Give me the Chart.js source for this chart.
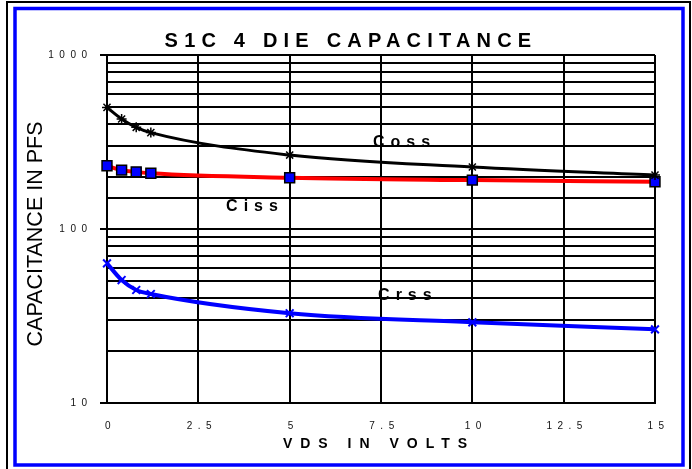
<!DOCTYPE html>
<html>
<head>
<meta charset="utf-8">
<script src="https://cdn.jsdelivr.net/npm/chart.js@4.4.0/dist/chart.umd.min.js"></script>
<style>
  html, body { margin: 0; padding: 0; background: #fff; }
  canvas { display: block; }
</style>
</head>
<body>
<canvas id="chartCap" width="692" height="469"></canvas>
<script>
// datos (VDS en volts, capacitancia en pF)
const vds  = [0, 0.4, 0.8, 1.2, 5, 10, 15];
const coss = [500, 429, 384, 358, 266, 227, 204];
const ciss = [231, 218, 213, 209, 197, 191, 187];
const crss = [63.5, 50.9, 44.6, 42.3, 32.8, 29.1, 26.5];

const yTickLabels = [10, 100, 1000];
const xTickLabels = ['0', '2.5', '5', '7.5', '10', '12.5', '15'];

// rotulos de las curvas, anclados en coordenadas de datos
const nombres = ['Coss', 'Ciss', 'Crss'];
const nombresX = [7.28, 3.26, 7.42];
const nombresY = [296, 127, 39.1];

const titulo = 'S1C 4 DIE CAPACITANCE';
const tituloX = 'VDS IN VOLTS';
const tituloY = 'CAPACITANCE IN PFS';

const FONT = 'Arial, "Liberation Sans", sans-serif';

function pares(xs, ys) {
    return xs.map((x, i) => ({ x: x, y: ys[i] }));
}

function texto(c, str, x, y, font, spacing, align) {
    c.save();
    c.font = font;
    c.letterSpacing = spacing + 'px';
    c.fillStyle = '#000';
    c.textAlign = align || 'left';
    c.textBaseline = 'alphabetic';
    c.fillText(str, x, y);
    c.restore();
}

const marco = {
    id: 'marco',
    beforeDraw(chart) {
        const c = chart.ctx;
        c.save();
        c.fillStyle = '#fff';
        c.fillRect(0, 0, chart.width, chart.height);
        c.strokeStyle = '#000';
        c.lineWidth = 2;
        c.strokeRect(7, 2, 683, 470);
        c.strokeStyle = '#0000ff';
        c.lineWidth = 3.5;
        c.strokeRect(15, 8.5, 668, 456.5);
        c.restore();
        // espaciado de las etiquetas de los ejes
        c.letterSpacing = '5.5px';
    },
    afterDraw(chart) {
        const c = chart.ctx;
        const sx = chart.scales.x, sy = chart.scales.y;
        nombres.forEach((n, i) => {
            texto(c, n, sx.getPixelForValue(nombresX[i]), sy.getPixelForValue(nombresY[i]),
                'bold 16px ' + FONT, 6, 'left');
        });
        texto(c, titulo, 351, 47, 'bold 20px ' + FONT, 6.2, 'center');
        texto(c, tituloX, 379, 448, 'bold 14px ' + FONT, 8, 'center');
        c.save();
        c.translate(42, 234);
        c.rotate(-Math.PI / 2);
        texto(c, tituloY, 0, 0, '21.5px ' + FONT, 0, 'center');
        c.restore();
        c.letterSpacing = '0px';
    }
};

new Chart(document.getElementById('chartCap'), {
    type: 'line',
    data: {
        datasets: [
            {
                label: 'Coss',
                data: pares(vds, coss),
                borderColor: '#000',
                borderWidth: 3,
                pointStyle: 'star',
                pointRadius: 5,
                pointBorderColor: '#000',
                pointBorderWidth: 1.5,
                cubicInterpolationMode: 'monotone',
                clip: false,
                order: 0
            },
            {
                label: 'Ciss',
                data: pares(vds, ciss),
                borderColor: '#ff0000',
                borderWidth: 4,
                pointStyle: 'rect',
                pointRadius: 7,
                pointBackgroundColor: '#0000ff',
                pointBorderColor: '#000',
                pointBorderWidth: 1.5,
                cubicInterpolationMode: 'monotone',
                clip: false,
                order: 1
            },
            {
                label: 'Crss',
                data: pares(vds, crss),
                borderColor: '#0000ff',
                borderWidth: 4,
                pointStyle: 'crossRot',
                pointRadius: 5.5,
                pointBorderColor: '#0000ff',
                pointBorderWidth: 2,
                cubicInterpolationMode: 'monotone',
                clip: false,
                order: 2
            }
        ]
    },
    options: {
        responsive: false,
        animation: false,
        layout: { padding: { left: 0, top: 55, right: 37, bottom: 0 } },
        plugins: { legend: { display: false }, tooltip: { enabled: false } },
        scales: {
            x: {
                type: 'linear',
                min: 0,
                max: 15,
                afterFit(s) { s.height = 66; },
                ticks: {
                    stepSize: 2.5,
                    padding: 17,
                    labelOffset: 3.5,
                    color: '#111',
                    font: { family: FONT, size: 10 },
                    callback: (v, i) => xTickLabels[i]
                },
                grid: { color: '#000', lineWidth: 2, drawTicks: false },
                border: { color: '#000', width: 2 }
            },
            y: {
                type: 'logarithmic',
                min: 10,
                max: 1000,
                afterFit(s) { s.width = 107; },
                ticks: {
                    autoSkip: false,
                    padding: 7.5,
                    color: '#111',
                    font: { family: FONT, size: 10 },
                    callback: v => yTickLabels.includes(v) ? String(v) : ''
                },
                grid: {
                    color: '#000',
                    lineWidth: 2,
                    tickLength: 7,
                    tickColor: ctx => (ctx.tick && yTickLabels.includes(ctx.tick.value)) ? '#000' : 'rgba(0,0,0,0)'
                },
                border: { color: '#000', width: 2 }
            }
        }
    },
    plugins: [marco]
});
</script>
</body>
</html>
